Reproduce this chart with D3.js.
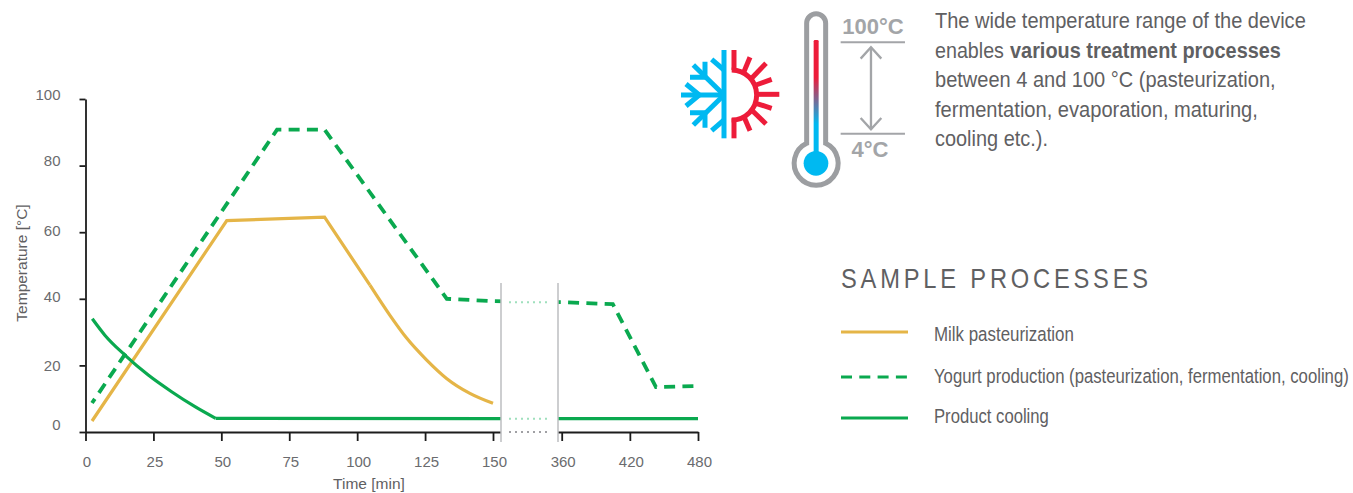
<!DOCTYPE html>
<html>
<head>
<meta charset="utf-8">
<script src="https://cdn.jsdelivr.net/npm/d3@7"></script>
<style>
  body { margin: 0; background: #fff; }
  text { font-family: "Liberation Sans", sans-serif; fill: #5f6062; }
</style>
</head>
<body>
<script>
var WIDTH = 1353, HEIGHT = 493;

// values: [time in min, temperature in C]
var milkStraight = [[2.4,3.3],[52,63.5],[88,64.5],[104.7,44.1]];
var milkCurve = [[104.7,44.1],[112,35.1],[118.2,28.2],[125.6,21.6],[132.9,16.1],[141.5,11.6],[150,8.6]];
var yogurt = [[2.4,8.7],[70.5,90.8],[88,90.8],[133,40],[150,39.3],[360,39],[405,38.4],[443,13.5],[480,13.8]];
var coolingCurve = [[2.5,34],[7.2,29],[14.5,23.1],[23.1,17.1],[31.7,12.1],[40.3,7.6],[47.9,4.1]];
var coolingFlat = [[47.9,4.1],[150,4],[360,4],[480,4]];

var xTicks = [0,25,50,75,100,125,150,360,420,480];
var yTicks = [0,20,40,60,80,100];
var legendLabels = ["Milk pasteurization","Yogurt production (pasteurization, fermentation, cooling)","Product cooling"];
var introLabels = ["The wide temperature range of the device","enables","various treatment processes","between 4 and 100 °C (pasteurization,","fermentation, evaporation, maturing,","cooling etc.)."];

var GOLD = "#e5b547", GREEN = "#0aa94f", BLUE = "#00b9f1", RED = "#ed1c3a", GREY = "#a3a5a8";

var svg = d3.select("body").append("svg")
  .attr("width", WIDTH)
  .attr("height", HEIGHT);

// the time axis is broken between 150 and 360
var x = d3.scaleLinear().domain([0,150,360,480]).range([85.5,493,561.7,698]);
var y = d3.scaleLinear().domain([0,100]).range([432,99]);

function pathOf(data, curve) {
  return d3.line().curve(curve).x(function(d){ return x(d[0]); }).y(function(d){ return y(d[1]); })(data);
}

// axes
var xAxis = svg.append("g")
  .attr("transform", "translate(0," + y(0) + ")")
  .call(d3.axisBottom(x).tickValues(xTicks).tickFormat(d3.format("d")).tickSize(9).tickSizeOuter(0).tickPadding(15));
var yAxis = svg.append("g")
  .attr("transform", "translate(" + x(0) + ",0)")
  .call(d3.axisLeft(y).tickValues(yTicks).tickSize(6).tickSizeOuter(0).tickPadding(19));

// y labels sit a little off their ticks in the original
var yNudge = {0:-7,20:0,40:-2,60:-2,80:-5,100:-4};
yAxis.selectAll(".tick text").attr("y", function(d){ return yNudge[d]; });
xAxis.selectAll(".tick text").attr("x", 1);

[xAxis, yAxis].forEach(function(a){
  a.selectAll("path,line").attr("stroke", "#1c1c1c").attr("stroke-width", 1.8);
  a.selectAll("text").style("font-size", "15px").style("font-family", "Liberation Sans").style("fill", "#6a6b6e");
});

svg.append("text").attr("transform", "translate(27,263) rotate(-90)")
  .attr("text-anchor", "middle").style("font-size", "15.5px").text("Temperature [°C]");
svg.append("text").attr("x", 369).attr("y", 489)
  .attr("text-anchor", "middle").style("font-size", "15.5px").text("Time [min]");

// series
function drawSeries(data, curve, color, w, dash, offset) {
  svg.append("path")
    .attr("d", pathOf(data, curve))
    .attr("fill", "none")
    .attr("stroke", color)
    .attr("stroke-width", w)
    .attr("stroke-dasharray", dash)
    .attr("stroke-dashoffset", offset || 0);
}
drawSeries(milkStraight, d3.curveLinear, GOLD, 3.2, null);
drawSeries(milkCurve, d3.curveMonotoneX, GOLD, 3.2, null);
drawSeries(yogurt, d3.curveLinear, GREEN, 3.8, "11,7.3", 6);
drawSeries(coolingCurve, d3.curveMonotoneX, GREEN, 3.2, null);
drawSeries(coolingFlat, d3.curveLinear, GREEN, 3.2, null);

// axis break
svg.append("rect").attr("x", 501).attr("y", 283).attr("width", 57).attr("height", 160).attr("fill", "#fff");
[501,558].forEach(function(px){
  svg.append("line").attr("x1", px).attr("x2", px).attr("y1", 283).attr("y2", 442)
    .attr("stroke", "#bdbec0").attr("stroke-width", 1.5);
});
[[39,"#9fe0bd"],[4,"#9fe0bd"],[0,"#a0a0a4"]].forEach(function(d){
  svg.append("line").attr("x1", 509).attr("x2", 550).attr("y1", y(d[0])).attr("y2", y(d[0]))
    .attr("stroke", d[1]).attr("stroke-width", 2).attr("stroke-dasharray", "2,4");
});

// no condensed font here, so the glyphs are squeezed to the original widths
function squeezed(label, px, base, right, size, weight, spacing) {
  var t = svg.append("text")
    .style("font-size", size + "px")
    .style("font-weight", weight || "normal")
    .style("letter-spacing", spacing || "normal")
    .text(label);
  var k = (right - px) / t.node().getComputedTextLength();
  t.attr("transform", "translate(" + px + "," + base + ") scale(" + k + ",1)");
}

// intro paragraph
squeezed(introLabels[0], 935, 28, 1306, 22);
squeezed(introLabels[1], 935, 57.5, 1004, 22);
squeezed(introLabels[2], 1010, 57.5, 1281, 22, "bold");
squeezed(introLabels[3], 935, 87, 1276, 22);
squeezed(introLabels[4], 935, 116.5, 1258, 22);
squeezed(introLabels[5], 935, 146, 1048, 22);

// legend
squeezed("SAMPLE PROCESSES", 841, 288, 1152, 28, null, "4.5px");

var legendY = [332,377,418], legendBase = [341,383,423], legendRight = [1074,1349,1049];
[[GOLD,null],[GREEN,"11,7.3"],[GREEN,null]].forEach(function(d, i){
  svg.append("line").attr("x1", 841).attr("x2", 908).attr("y1", legendY[i]).attr("y2", legendY[i])
    .attr("stroke", d[0]).attr("stroke-width", 3.2).attr("stroke-dasharray", d[1]);
  squeezed(legendLabels[i], 934, legendBase[i], legendRight[i], 19.5);
});

// icons, drawn at 3x in a group
var icon = svg.append("g").attr("transform", "translate(670,0) scale(0.3333)");

function strokes(list, color, w) {
  list.forEach(function(d){
    icon.append("path").attr("d", d).attr("fill", "none").attr("stroke", color).attr("stroke-width", w);
  });
}
strokes([
  "M162 150V415", "M33 285H162",
  "M125 178L162 210", "M125 392L162 360",
  "M48 252L88 285L48 318",
  "M70 195L162 285", "M70 375L162 285",
  "M105 185V232H60", "M105 383V338H60"
], BLUE, 15);
strokes([
  "M185 210A75 75 0 0 1 185 360",
  "M192 150V210", "M192 415V355",
  "M240 172L222 215", "M240 392L222 350",
  "M288 190L245 235", "M288 372L245 330",
  "M305 238L258 255", "M305 325L258 310",
  "M328 283H262"
], RED, 15);

var grad = svg.append("defs").append("linearGradient").attr("id", "merc")
  .attr("gradientUnits", "userSpaceOnUse").attr("x1", 0).attr("x2", 0).attr("y1", 120).attr("y2", 470);
grad.append("stop").attr("offset", 0.32).attr("stop-color", RED);
grad.append("stop").attr("offset", 0.72).attr("stop-color", BLUE);

icon.append("path").attr("d", "M410 430V70A28.5 28.5 0 0 1 467 70V430A66 66 0 1 1 410 430Z")
  .attr("fill", "none").attr("stroke", "#9c9ea1").attr("stroke-width", 15);
icon.append("rect").attr("x", 431).attr("y", 120).attr("width", 15).attr("height", 350).attr("rx", 4).attr("fill", "url(#merc)");
icon.append("circle").attr("cx", 438).attr("cy", 490).attr("r", 37).attr("fill", BLUE);

strokes(["M512 127H705", "M512 401H705"], GREY, 6);
strokes(["M603 142V388", "M572 176L603 142L634 176", "M572 354L603 388L634 354"], GREY, 7);

[["100°C",873,34],["4°C",870,157]].forEach(function(d){
  svg.append("text").attr("x", d[1]).attr("y", d[2]).attr("text-anchor", "middle")
    .style("font-size", "22px").style("font-weight", "bold").style("fill", GREY).text(d[0]);
});
</script>
</body>
</html>
